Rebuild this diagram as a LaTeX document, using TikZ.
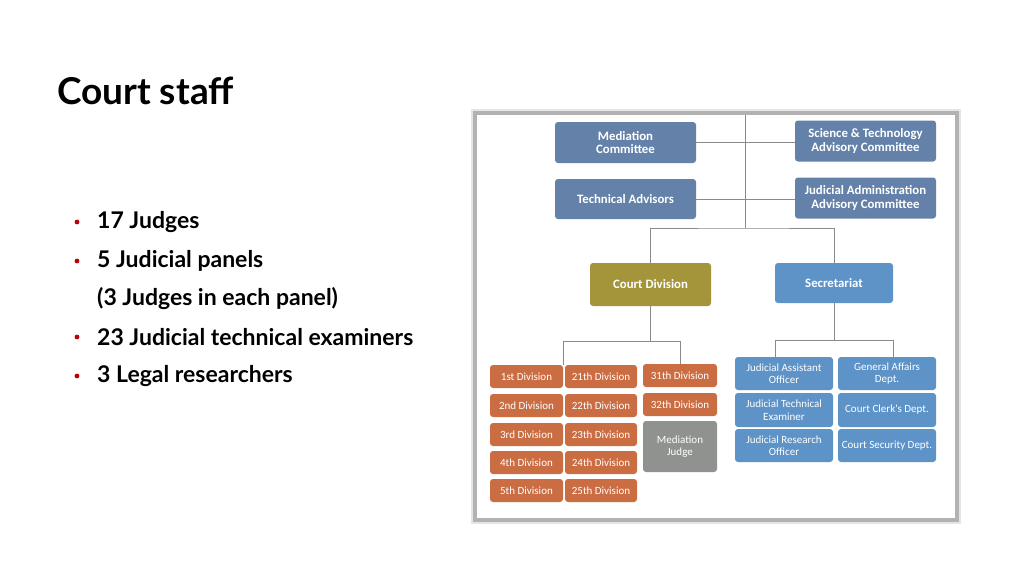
\documentclass[tikz,border=0pt]{standalone}
\usepackage{fontspec}
\setmainfont{Lato}
\newfontfamily\chartfont{Carlito}
\usetikzlibrary{positioning}

\definecolor{boxblue}{HTML}{6482A9}
\definecolor{secblue}{HTML}{5E93C8}
\definecolor{olivebox}{HTML}{A4953A}
\definecolor{divorange}{HTML}{CB6D43}
\definecolor{judgegray}{HTML}{8F928F}
\definecolor{linegray}{HTML}{8A8A8A}
\definecolor{bulletred}{HTML}{C00000}

\tikzset{
  unit/.style={rounded corners=3pt, text=white, align=center, inner sep=1pt,
    font=\chartfont\bfseries\fontsize{12.8}{13.5}\selectfont},
  topbox/.style={unit, fill=boxblue, minimum width=141pt, minimum height=41pt},
  divbox/.style={unit, fill=divorange, minimum width=73pt, minimum height=23pt,
    font=\chartfont\fontsize{11}{12}\selectfont},
  secbox/.style={unit, fill=secblue, minimum width=98pt, minimum height=33pt,
    font=\chartfont\fontsize{11}{12.5}\selectfont},
  link/.style={draw=linegray, line width=0.8pt},
  item/.style={anchor=west, inner sep=0pt, font=\bfseries\fontsize{23}{26}\selectfont}
}

\begin{document}
\begin{tikzpicture}[x=1pt,y=-1pt]
\useasboundingbox (0,0) rectangle (1024,576);

% Title and bullet list
\node[anchor=west, inner sep=0pt, font=\bfseries\fontsize{37}{40}\selectfont] (title) at (57,91) {Court staff};
\node[item] (b1) at (97,222) {17 Judges};
\node[item] (b2) at (97,261) {5 Judicial panels};
\node[item] (b2a) at (97,299) {(3 Judges in each panel)};
\node[item] (b3) at (97,337) {23 Judicial technical examiners};
\node[item] (b4) at (97,376) {3 Legal researchers};
\foreach \b in {b1,b2,b3,b4}
  \fill[bulletred] (\b.west) ++(-20,0) circle (2.4);

% Picture frame
\draw[black!10, line width=8pt] (475,113) rectangle (957,520);
\draw[black!30, line width=3.5pt, fill=white] (475,113) rectangle (957,520);

% Top committees
\node[topbox] (medc) at (625.5,142.5) {Mediation\\Committee};
\node[topbox] (stac) at (865.5,141) {Science \& Technology\\Advisory Committee};
\node[topbox, minimum height=40pt] (tadv) at (625.5,199) {Technical Advisors};
\node[topbox] (jaac) at (865.5,198) {Judicial Administration\\Advisory Committee};

% Court division and secretariat
\node[unit, fill=olivebox, minimum width=121pt, minimum height=43pt] (court) at (650.5,284.5) {Court Division};
\node[unit, fill=secblue, minimum width=118pt, minimum height=40pt] (sec) at (834,283) {Secretariat};

% Divisions
\node[divbox] (d1) at (526.5,376.5) {1st Division};
\node[divbox] (d2) at (526.5,405.5) {2nd Division};
\node[divbox] (d3) at (526.5,434.5) {3rd Division};
\node[divbox] (d4) at (526.5,462.5) {4th Division};
\node[divbox] (d5) at (526.5,490.5) {5th Division};
\node[divbox, minimum width=72pt] (d21) at (601,376.5) {21th Division};
\node[divbox, minimum width=72pt] (d22) at (601,405.5) {22th Division};
\node[divbox, minimum width=72pt] (d23) at (601,434.5) {23th Division};
\node[divbox, minimum width=72pt] (d24) at (601,462.5) {24th Division};
\node[divbox, minimum width=72pt] (d25) at (601,490.5) {25th Division};
\node[divbox, minimum width=74pt] (d31) at (680,375.5) {31th Division};
\node[divbox, minimum width=74pt] (d32) at (680,404.5) {32th Division};
\node[divbox, fill=judgegray, minimum width=74pt, minimum height=51pt] (mjudge) at (680,446.5) {Mediation\\Judge};

% Secretariat departments
\node[secbox] (jao) at (784,373.5) {Judicial Assistant\\Officer};
\node[secbox, minimum height=34pt] (jte) at (784,410) {Judicial Technical\\Examiner};
\node[secbox] (jro) at (784,445.5) {Judicial Research\\Officer};
\node[secbox] (gad) at (887,373.5) {General Affairs\\Dept.};
\node[secbox, minimum height=34pt] (ccd) at (887,410) {Court Clerk's Dept.};
\node[secbox] (csd) at (887,445.5) {Court Security Dept.};

% Connectors
\coordinate (top) at (745,115);
\coordinate (split) at (745,228);
\draw[link] (top) -- (split);
\draw[link] (medc.east) -- (medc.east -| stac.west);
\draw[link] (tadv.east) -- (tadv.east -| jaac.west);
\draw[link] (court.north) |- (split) -| (sec.north);
\draw[link] (court.south) -- ++(0,35) coordinate (divsplit);
\draw[link] (d1.north east) |- (divsplit) -| (d31.north);
\draw[link] (sec.south) -- ++(0,37) coordinate (secsplit);
\draw[link] ([xshift=-9pt]jao.north) |- (secsplit) -| ([xshift=6pt]gad.north);

\end{tikzpicture}
\end{document}
